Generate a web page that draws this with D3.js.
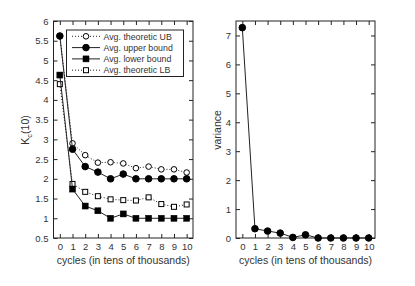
<!DOCTYPE html>
<html><head><meta charset="utf-8">
<script src="https://cdn.jsdelivr.net/npm/d3@7"></script>
<style>body{margin:0;background:#fff}svg{display:block}text{font-family:"Liberation Sans",Arial,sans-serif;fill:#333}</style>
</head><body><svg id="c" width="415" height="286"></svg>
<script>
const cycles = [0,1,2,3,4,5,6,7,8,9,10];
const theoreticUB = [5.62,2.90,2.60,2.41,2.42,2.39,2.27,2.31,2.24,2.24,2.16];
const upperBound = [5.62,2.75,2.31,2.17,2.00,2.12,2.00,2.00,2.00,2.00,2.00];
const lowerBound = [4.63,1.74,1.31,1.19,1.00,1.11,1.00,1.00,1.00,1.00,1.00];
const theoreticLB = [4.40,1.87,1.67,1.56,1.48,1.46,1.45,1.53,1.36,1.29,1.35];
const variance = [7.27,0.32,0.24,0.17,0.02,0.11,0.0,0.0,0.0,0.0,0.0];
const leftYTicks = [0.5,1,1.5,2,2.5,3,3.5,4,4.5,5,5.5,6];
const rightYTicks = [0,1,2,3,4,5,6,7];
const xTickLabels = ["0","1","2","3","4","5","6","7","8","9","10"];
const legendLabels = ["Avg. theoretic UB","Avg. upper bound","Avg. lower bound","Avg. theoretic LB"];

const svg = d3.select("#c");
const ink = "#222";

function panel(x0,x1,y0,y1,ydom,yticks){
  const x = d3.scaleLinear().domain([-0.5,10.5]).range([x0,x1]);
  const y = d3.scaleLinear().domain(ydom).range([y1,y0]);
  const g = svg.append("g");
  const fmt = d => String(d);
  const tl = 4;
  const axB = d3.axisBottom(x).tickValues(cycles).tickFormat((d,i)=>xTickLabels[i]).tickSize(-tl).tickPadding(5);
  const axT = d3.axisTop(x).tickValues(cycles).tickFormat("").tickSize(-tl);
  const axL = d3.axisLeft(y).tickValues(yticks).tickFormat(fmt).tickSize(-tl).tickPadding(5);
  const axR = d3.axisRight(y).tickValues(yticks).tickFormat("").tickSize(-tl);
  [[axB,`translate(0,${y1})`],[axT,`translate(0,${y0})`],[axL,`translate(${x0},0)`],[axR,`translate(${x1},0)`]].forEach(([a,t])=>{
    const ag = g.append("g").attr("transform",t).call(a);
    ag.select(".domain").remove();
    ag.selectAll("line").attr("stroke",ink).attr("stroke-width",1);
    ag.selectAll("text").attr("font-size",9.5).attr("fill","#333").style("font-family","Liberation Sans, Arial, sans-serif");
  });
  g.append("rect").attr("x",x0).attr("y",y0).attr("width",x1-x0).attr("height",y1-y0)
    .attr("fill","none").attr("stroke",ink).attr("stroke-width",1);
  g.append("text").attr("x",(x0+x1)/2).attr("y",y1+25.5).attr("text-anchor","middle").attr("font-size",10.5)
    .text("cycles (in tens of thousands)");
  return {x,y,g};
}

const L = panel(53.5,193,21,238,[0.5,6],leftYTicks);
const R = panel(236,375,21,238,[0,7.5],rightYTicks);

// y labels
const kl = svg.append("text").attr("transform",`translate(29,130) rotate(-90)`).attr("text-anchor","middle").attr("font-size",10.5);
kl.append("tspan").text("K");
kl.append("tspan").attr("font-size",7.5).attr("dy",2.5).text("c");
kl.append("tspan").attr("dy",-2.5).text("(10)");
svg.append("text").attr("transform",`translate(221,130) rotate(-90)`).attr("text-anchor","middle").attr("font-size",10.5).text("variance");

function series(P,data,dash,marker,filled){
  const line = d3.line().x((d,i)=>P.x(cycles[i])).y(d=>P.y(d));
  P.g.append("path").datum(data).attr("d",line).attr("fill","none").attr("stroke",ink).attr("stroke-width",1)
    .attr("stroke-dasharray",dash?"1,2":null);
  drawMarkers(P.g,data.map((d,i)=>[P.x(cycles[i]),P.y(d)]),marker,filled);
}
function drawMarkers(g,pts,marker,filled){
  pts.forEach(([px,py])=>{
    if(marker==="circle"){
      g.append("circle").attr("cx",px).attr("cy",py).attr("r",filled?3.3:2.8)
        .attr("fill",filled?"#000":"#fff").attr("stroke","#000").attr("stroke-width",1);
    } else {
      const s = filled?6:5;
      g.append("rect").attr("x",px-s/2).attr("y",py-s/2).attr("width",s).attr("height",s)
        .attr("fill",filled?"#000":"#fff").attr("stroke","#000").attr("stroke-width",filled?0.5:1);
    }
  });
}

series(L,theoreticLB,true,"square",false);
series(L,lowerBound,false,"square",true);
series(L,theoreticUB,true,"circle",false);
series(L,upperBound,false,"circle",true);
series(R,variance,false,"circle",true);

// legend
const lg = svg.append("g");
lg.append("rect").attr("x",66.5).attr("y",30).attr("width",117).attr("height",46.5)
  .attr("fill","#fff").attr("stroke",ink).attr("stroke-width",1);
const specs = [[true,"circle",false],[false,"circle",true],[false,"square",true],[true,"square",false]];
legendLabels.forEach((lab,i)=>{
  const yy = 36.3 + i*11.3;
  const [dash,m,f] = specs[i];
  lg.append("line").attr("x1",72).attr("x2",100).attr("y1",yy).attr("y2",yy).attr("stroke",ink).attr("stroke-width",1)
    .attr("stroke-dasharray",dash?"1,2":null);
  drawMarkers(lg,[[86,yy]],m,f);
  lg.append("text").attr("x",103.5).attr("y",yy+3.2).attr("font-size",8.8).text(lab);
});
</script></body></html>
